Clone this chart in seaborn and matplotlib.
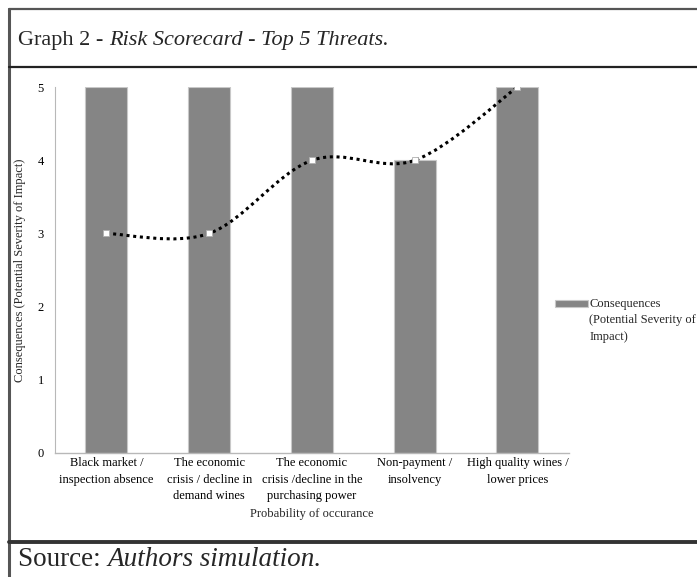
import numpy as np
import pandas as pd
import matplotlib
matplotlib.use("Agg")
import matplotlib.pyplot as plt
from matplotlib.path import Path
from matplotlib.patches import PathPatch, Rectangle
from matplotlib.lines import Line2D
from matplotlib.container import BarContainer
from matplotlib.legend_handler import HandlerPatch, update_from_first_child
import seaborn as sns

# Data
threats = ["Black market /\ninspection absence",
           "The economic\ncrisis / decline in\ndemand wines",
           "The economic\ncrisis /decline in the\npurchasing power",
           "Non-payment /\ninsolvency",
           "High quality wines /\nlower prices"]
consequences = [5, 5, 5, 4, 5]
probability = [3, 3, 4, 4, 5]

df = pd.DataFrame({"threat": threats, "consequences": consequences,
                   "probability": probability})

sns.set_theme(style="white")
plt.rcParams["font.family"] = ["Liberation Serif", "DejaVu Serif"]

fig = plt.figure(figsize=(6.97, 5.77), dpi=100)
ax = fig.add_axes([0.079, 0.215, 0.737, 0.634])

sns.barplot(data=df, x="threat", y="consequences", color="#858585",
            width=0.41, saturation=1, edgecolor="#c8c8c8", linewidth=0.8,
            label="Consequences\n(Potential Severity of\nImpact)", ax=ax)

# smoothed dotted line through the probability values (Excel-style smoothing)
xs = np.arange(len(probability), dtype=float)
ys = np.array(probability, dtype=float)
px = np.concatenate([[xs[0]], xs, [xs[-1]]])
py = np.concatenate([[ys[0]], ys, [ys[-1]]])
verts = [(xs[0], ys[0])]
codes = [Path.MOVETO]
for i in range(len(xs) - 1):
    j = i + 1
    c1 = (xs[i] + (px[j + 1] - px[j - 1]) / 6, ys[i] + (py[j + 1] - py[j - 1]) / 6)
    c2 = (xs[i + 1] - (px[j + 2] - px[j]) / 6, ys[i + 1] - (py[j + 2] - py[j]) / 6)
    verts += [c1, c2, (xs[i + 1], ys[i + 1])]
    codes += [Path.CURVE4] * 3
ax.add_patch(PathPatch(Path(verts, codes), facecolor="none", edgecolor="black",
                       linewidth=2.2, linestyle=(0, (1, 1.2)), zorder=3))
ax.plot(xs, ys, linestyle="none", marker="s", markersize=4.5,
        markerfacecolor="white", markeredgecolor="#b0b0b0",
        markeredgewidth=0.6, zorder=4)

ax.set_ylim(0, 5)
ax.set_xlim(-0.5, 4.5)
ax.set_yticks(range(6))
ax.tick_params(axis="both", length=0, labelsize=9, colors="black")
ax.tick_params(axis="y", pad=8)
ax.tick_params(axis="x", pad=3)
for lab in ax.get_xticklabels():
    lab.set_linespacing(1.5)
ax.set_xlabel("Probability of occurance", fontsize=9)
ax.xaxis.set_label_coords(0.5, -0.15)
ax.set_ylabel("Consequences (Potential Severity of Impact)", fontsize=9)
ax.yaxis.set_label_coords(-0.056, 0.5)
for s in ["top", "right"]:
    ax.spines[s].set_visible(False)
ax.spines["left"].set_color("#b8b8b8")
ax.spines["bottom"].set_color("#b8b8b8")
ax.spines["left"].set_linewidth(0.8)
ax.spines["bottom"].set_linewidth(1.0)
ax.grid(False)

# legend key sits level with the first line of its label
def top_key(legend, orig_handle, xdescent, ydescent, width, height, fontsize):
    return Rectangle((-xdescent, -ydescent + 1.36 * fontsize), width, height)

fw, fh = 697, 577
def fx(p):
    return p / fw
def fy(p):
    return 1 - p / fh

leg = ax.legend(loc="upper left", bbox_to_anchor=(fx(555), fy(298)),
                bbox_transform=fig.transFigure, frameon=False, fontsize=9,
                handlelength=2.6, handleheight=0.45, handletextpad=0.15,
                borderpad=0, borderaxespad=0,
                handler_map={BarContainer: HandlerPatch(
                    patch_func=top_key, update_func=update_from_first_child)})
for t in leg.get_texts():
    t.set_linespacing(1.5)

# frame around the figure (title and source boxes)
fig.add_artist(Line2D([fx(9), fx(9)], [fy(9), 0], color="#555555", lw=2.2,
                      transform=fig.transFigure))
fig.add_artist(Line2D([fx(9), 1], [fy(9), fy(9)], color="#555555", lw=1.6,
                      transform=fig.transFigure))
fig.add_artist(Line2D([fx(9), 1], [fy(67), fy(67)], color="#222222", lw=1.6,
                      transform=fig.transFigure))
fig.add_artist(Line2D([fx(9), 1], [fy(542), fy(542)], color="#333333", lw=2.8,
                      transform=fig.transFigure))

t1 = fig.text(fx(18), fy(40), "Graph 2 - ", fontsize=16, va="center", ha="left")
ax.annotate("Risk Scorecard - Top 5 Threats.", xy=(1, 0.5), xycoords=t1,
            fontsize=16, style="italic", va="center", ha="left",
            annotation_clip=False)
s1 = fig.text(fx(18), fy(559), "Source: ", fontsize=19.5, va="center", ha="left")
ax.annotate("Authors simulation.", xy=(1, 0.5), xycoords=s1, fontsize=19.5,
            style="italic", va="center", ha="left", annotation_clip=False)

fig.savefig("out.png", dpi=100)
